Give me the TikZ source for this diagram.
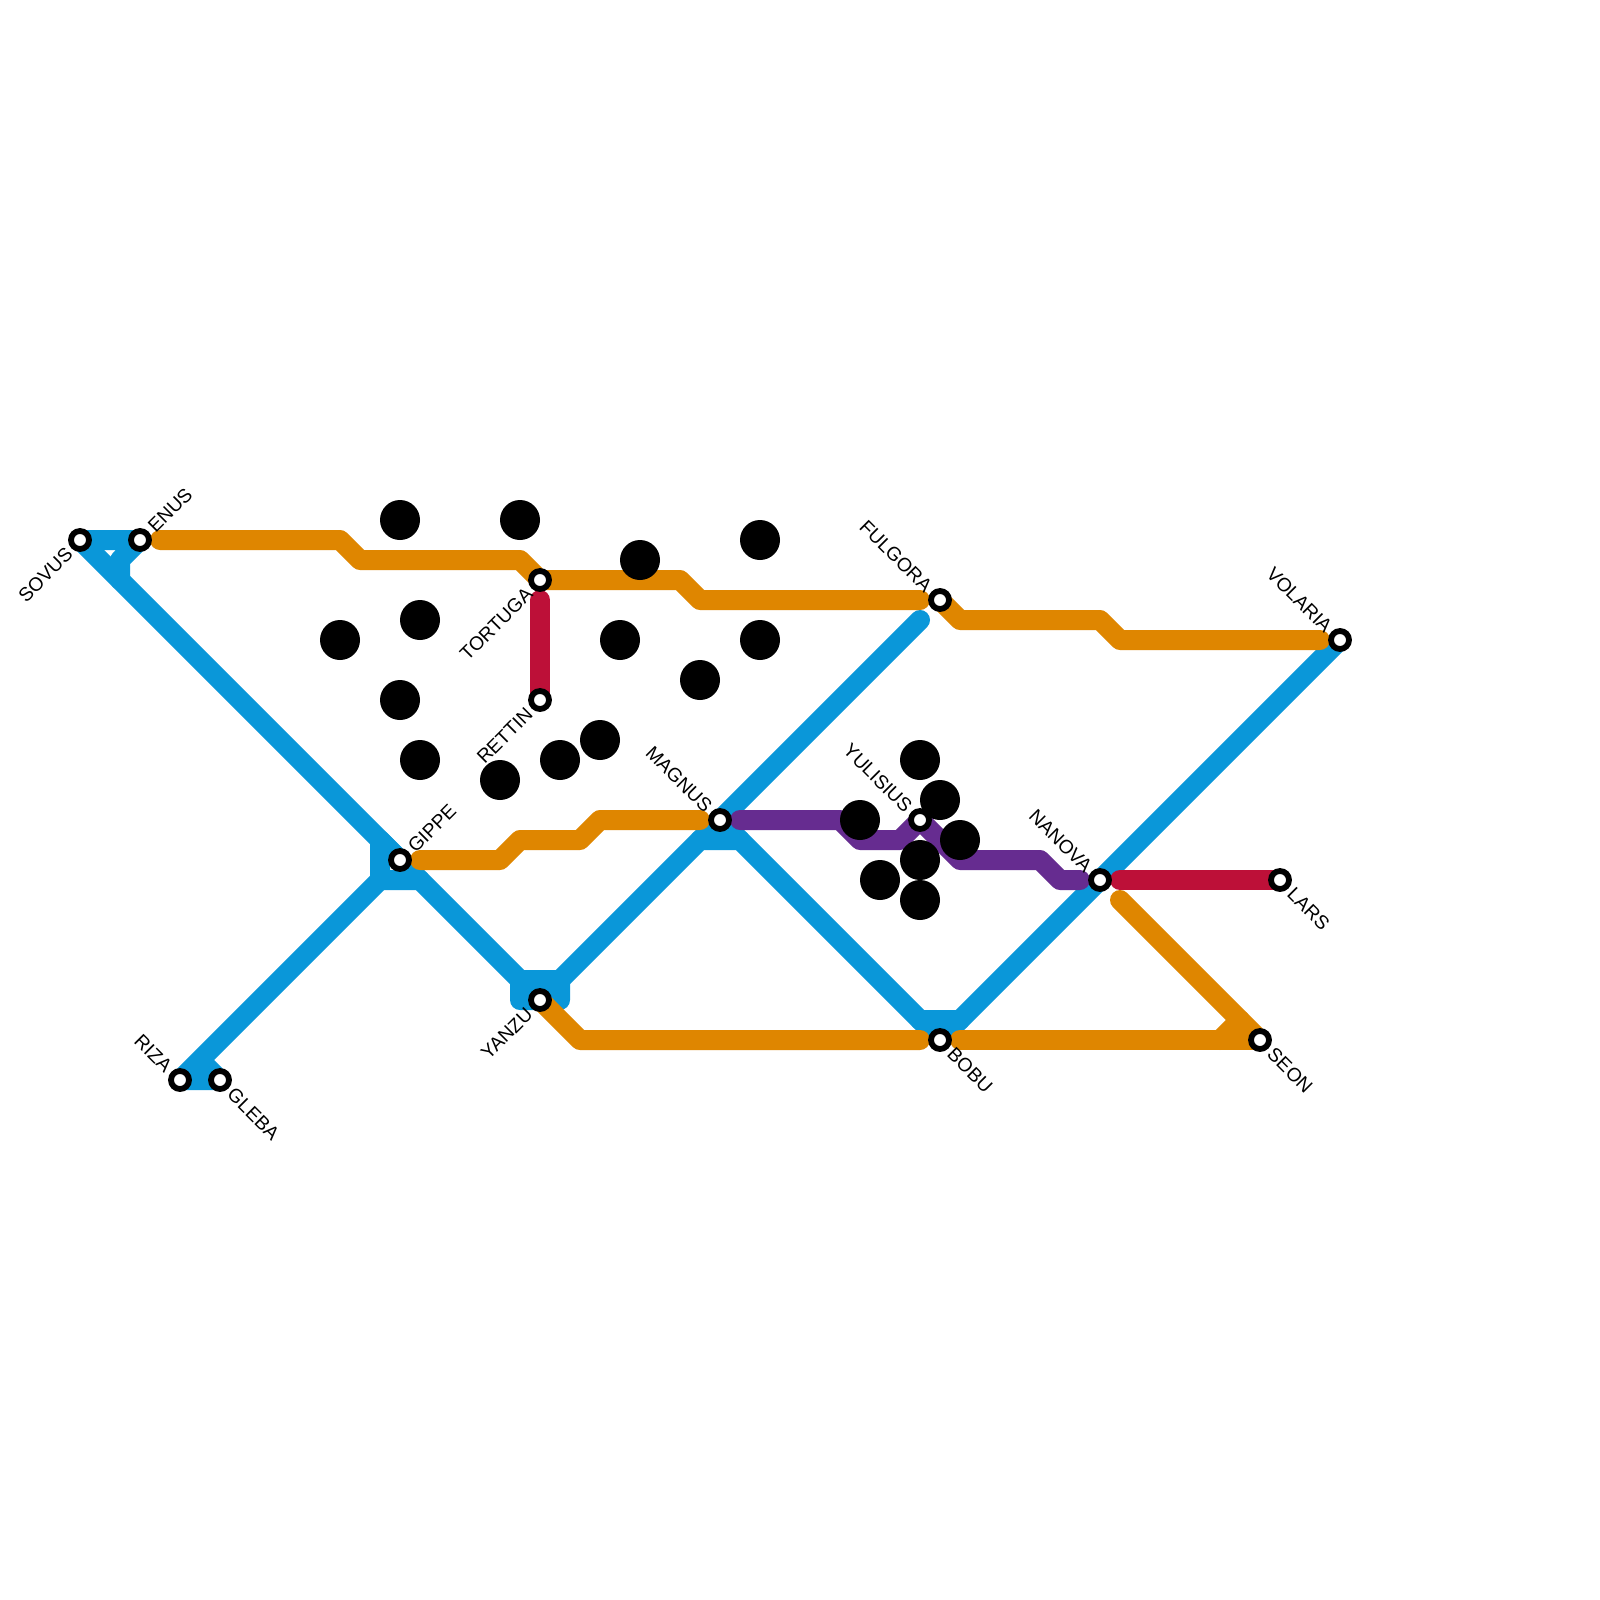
\documentclass[tikz,border=0pt]{standalone}
\usepackage{fontspec}
\setmainfont{Liberation Sans}
\usetikzlibrary{backgrounds}
\definecolor{lblue}{HTML}{0A97D9}
\definecolor{lorange}{HTML}{DF8600}
\definecolor{lpurple}{HTML}{662C90}
\definecolor{lred}{HTML}{BD1038}
\tikzset{
  metro/.style={line width=10pt,line cap=round,line join=round},
  stn/.style={circle,draw=black,fill=white,line width=2.9pt,inner sep=0pt,minimum size=9pt},
  blob/.style={circle,fill=black,inner sep=0pt,minimum size=20pt},
  lab/.style={inner sep=0pt,font=\fontsize{9.6pt}{9.6pt}\selectfont,text height=6.9pt,text depth=0pt,text=black},
  labne/.style={lab,rotate=45,anchor=west,xshift=7.6pt},
  labsw/.style={lab,rotate=45,anchor=east,xshift=-7.6pt},
  labnw/.style={lab,rotate=-45,anchor=east,xshift=-7.6pt},
  labse/.style={lab,rotate=-45,anchor=west,xshift=7.6pt},
}
\begin{document}
\begin{tikzpicture}[x=0.5pt,y=-0.5pt]
\useasboundingbox (0,0) rectangle (1600,1600);
% stations
\foreach \n/\x/\y in {sovus/80/540,enus/140/540,gippe/400/860,tortuga/540/580,rettin/540/700,yanzu/540/1000,magnus/720/820,yulisius/920/820,fulgora/940/600,nanova/1100/880,volaria/1340/640,riza/180/1080,gleba/220/1080,bobu/940/1040,lars/1280/880,seon/1260/1040}
  {\node[stn] (\n) at (\x,\y) {};}
% labels
\node[labsw] (l1) at (sovus) {SOVUS};
\node[labne] (l2) at (enus) {ENUS};
\node[labne] (l3) at (gippe) {GIPPE};
\node[labsw] (l4) at (tortuga) {TORTUGA};
\node[labsw] (l5) at (rettin) {RETTIN};
\node[labsw] (l6) at (yanzu) {YANZU};
\node[labnw] (l7) at (magnus) {MAGNUS};
\node[labnw] (l8) at (yulisius) {YULISIUS};
\node[labnw] (l9) at (fulgora) {FULGORA};
\node[labnw] (l10) at (nanova) {NANOVA};
\node[labnw] (l11) at (volaria) {VOLARIA};
\node[labnw] (l12) at (riza) {RIZA};
\node[labse] (l13) at (gleba) {GLEBA};
\node[labse] (l14) at (bobu) {BOBU};
\node[labse] (l15) at (lars) {LARS};
\node[labse] (l16) at (seon) {SEON};
% lines
\begin{scope}[on background layer]
\fill[white] (0,0) rectangle (1600,1600);
\draw[metro,lblue] (sovus.center) -- (enus.center) -- (120,560) -- (120,580);
\draw[metro,lblue] (sovus.center) -- (gippe.center) -- (420,880) -- (520,980) -- (560,980) -- (560,1000) -- (yanzu.center) -- (520,1000) -- (520,980);
\draw[metro,lblue] (gippe.center) -- (380,840) -- (380,880) -- (420,880);
\draw[metro,lblue] (380,880) -- (riza.center) -- (gleba.center) -- (200,1060);
\draw[metro,lblue] (560,980) -- (700,840) -- (740,840) -- (920,1020) -- (960,1020) -- (nanova.center) -- (volaria.center);
\draw[metro,lblue] (920,1020) -- (bobu.center) -- (960,1020);
\draw[metro,lblue] (magnus.center) -- (700,840);
\draw[metro,lblue] (magnus.center) -- (740,840);
\draw[metro,lblue] (magnus.center) -- (920,620);
\draw[metro,lpurple] (740,820) -- (840,820) -- (860,840) -- (900,840) -- (yulisius.center) -- (960,860) -- (1040,860) -- (1060,880) -- (1080,880);
\draw[metro,lorange] (160,540) -- (340,540) -- (360,560) -- (520,560) -- (tortuga.center) -- (680,580) -- (700,600) -- (920,600);
\draw[metro,lorange] (fulgora.center) -- (960,620) -- (1100,620) -- (1120,640) -- (1320,640);
\draw[metro,lorange] (420,860) -- (500,860) -- (520,840) -- (580,840) -- (600,820) -- (700,820);
\draw[metro,lorange] (yanzu.center) -- (580,1040) -- (920,1040);
\draw[metro,lorange] (960,1040) -- (seon.center);
\draw[metro,lorange] (1120,900) -- (seon.center);
\draw[metro,lorange] (1220,1040) -- (1240,1020);
\draw[metro,lred] (540,600) -- (rettin.center);
\draw[metro,lred] (1120,880) -- (lars.center);
\end{scope}
% blobs
\foreach \i/\x/\y in {1/400/520,2/520/520,3/640/560,4/760/540,5/340/640,6/420/620,7/400/700,8/420/760,9/500/780,10/560/760,11/600/740,12/620/640,13/700/680,14/760/640,15/920/760,16/940/800,17/960/840,18/860/820,19/920/860,20/880/880,21/920/900}
  {\node[blob] (b\i) at (\x,\y) {};}
\end{tikzpicture}
\end{document}
